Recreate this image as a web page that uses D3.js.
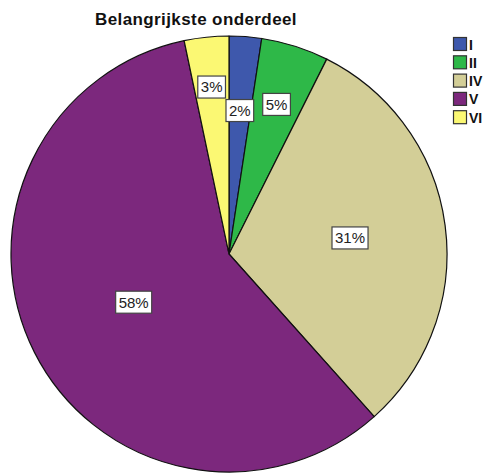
<!DOCTYPE html>
<html>
<head>
<meta charset="utf-8">
<script src="https://cdn.jsdelivr.net/npm/d3@7"></script>
<style>
  html, body { margin: 0; padding: 0; background: #ffffff; }
  svg { display: block; font-family: "Liberation Sans", Arial, sans-serif; }
</style>
</head>
<body>
<svg id="chart" width="486" height="473"></svg>
<script>
const title = "Belangrijkste onderdeel";
const categories = ["I", "II", "IV", "V", "VI"];
const values = [2.4, 5.0, 31.0, 58.3, 3.3];
const labels = ["2%", "5%", "31%", "58%", "3%"];
const colors = ["#3E58AC", "#2EB848", "#D3CE97", "#7C287D", "#FBF873"];

// layout constants
const cx = 229, cy = 254, r = 218;
const labelRadiusFrac = [0.66, 0.72, 0.56, 0.49, 0.77];

const svg = d3.select("#chart");

svg.append("text")
  .attr("x", 196).attr("y", 25)
  .attr("text-anchor", "middle")
  .attr("font-weight", "bold")
  .attr("font-size", 17)
  .attr("letter-spacing", 0.4)
  .attr("fill", "#111")
  .text(title);

const pie = d3.pie().sort(null).value(d => d)(values);
const arc = d3.arc().innerRadius(0).outerRadius(r);

const g = svg.append("g").attr("transform", `translate(${cx},${cy})`);

g.selectAll("path.slice")
  .data(pie)
  .join("path")
  .attr("class", "slice")
  .attr("d", arc)
  .attr("fill", (d, i) => colors[i])
  .attr("stroke", "#111")
  .attr("stroke-width", 1.2)
  .attr("stroke-linejoin", "round");

const lab = g.selectAll("g.lab")
  .data(pie)
  .join("g")
  .attr("class", "lab")
  .attr("transform", (d, i) => {
    const lr = r * labelRadiusFrac[i];
    const c = d3.arc().innerRadius(lr).outerRadius(lr).centroid(d);
    return `translate(${c[0]},${c[1]})`;
  });

lab.each(function(d, i) {
  const sel = d3.select(this);
  const t = sel.append("text")
    .attr("text-anchor", "middle")
    .attr("dy", "0.36em")
    .attr("font-size", 15)
    .attr("fill", "#222")
    .text(labels[i]);
  const bb = t.node().getBBox();
  sel.insert("rect", "text")
    .attr("x", bb.x - 3)
    .attr("y", -11)
    .attr("width", bb.width + 6)
    .attr("height", 22)
    .attr("fill", "#fff")
    .attr("stroke", "#444")
    .attr("stroke-width", 1.2);
});

// legend
const ly = d3.scaleBand().domain(categories).range([36, 36 + 18.3 * categories.length]);
const leg = svg.append("g").attr("transform", "translate(453,0)");
const items = leg.selectAll("g").data(categories).join("g")
  .attr("transform", d => `translate(0,${ly(d)})`);
items.append("rect")
  .attr("x", 0.5).attr("y", 1.5)
  .attr("width", 13).attr("height", 13)
  .attr("fill", (d, i) => colors[i])
  .attr("stroke", "#333").attr("stroke-width", 1.2);
items.append("text")
  .attr("x", 16).attr("y", 13.5)
  .attr("font-size", 14)
  .attr("font-weight", "bold")
  .attr("fill", "#111")
  .text(d => d);
</script>
</body>
</html>
